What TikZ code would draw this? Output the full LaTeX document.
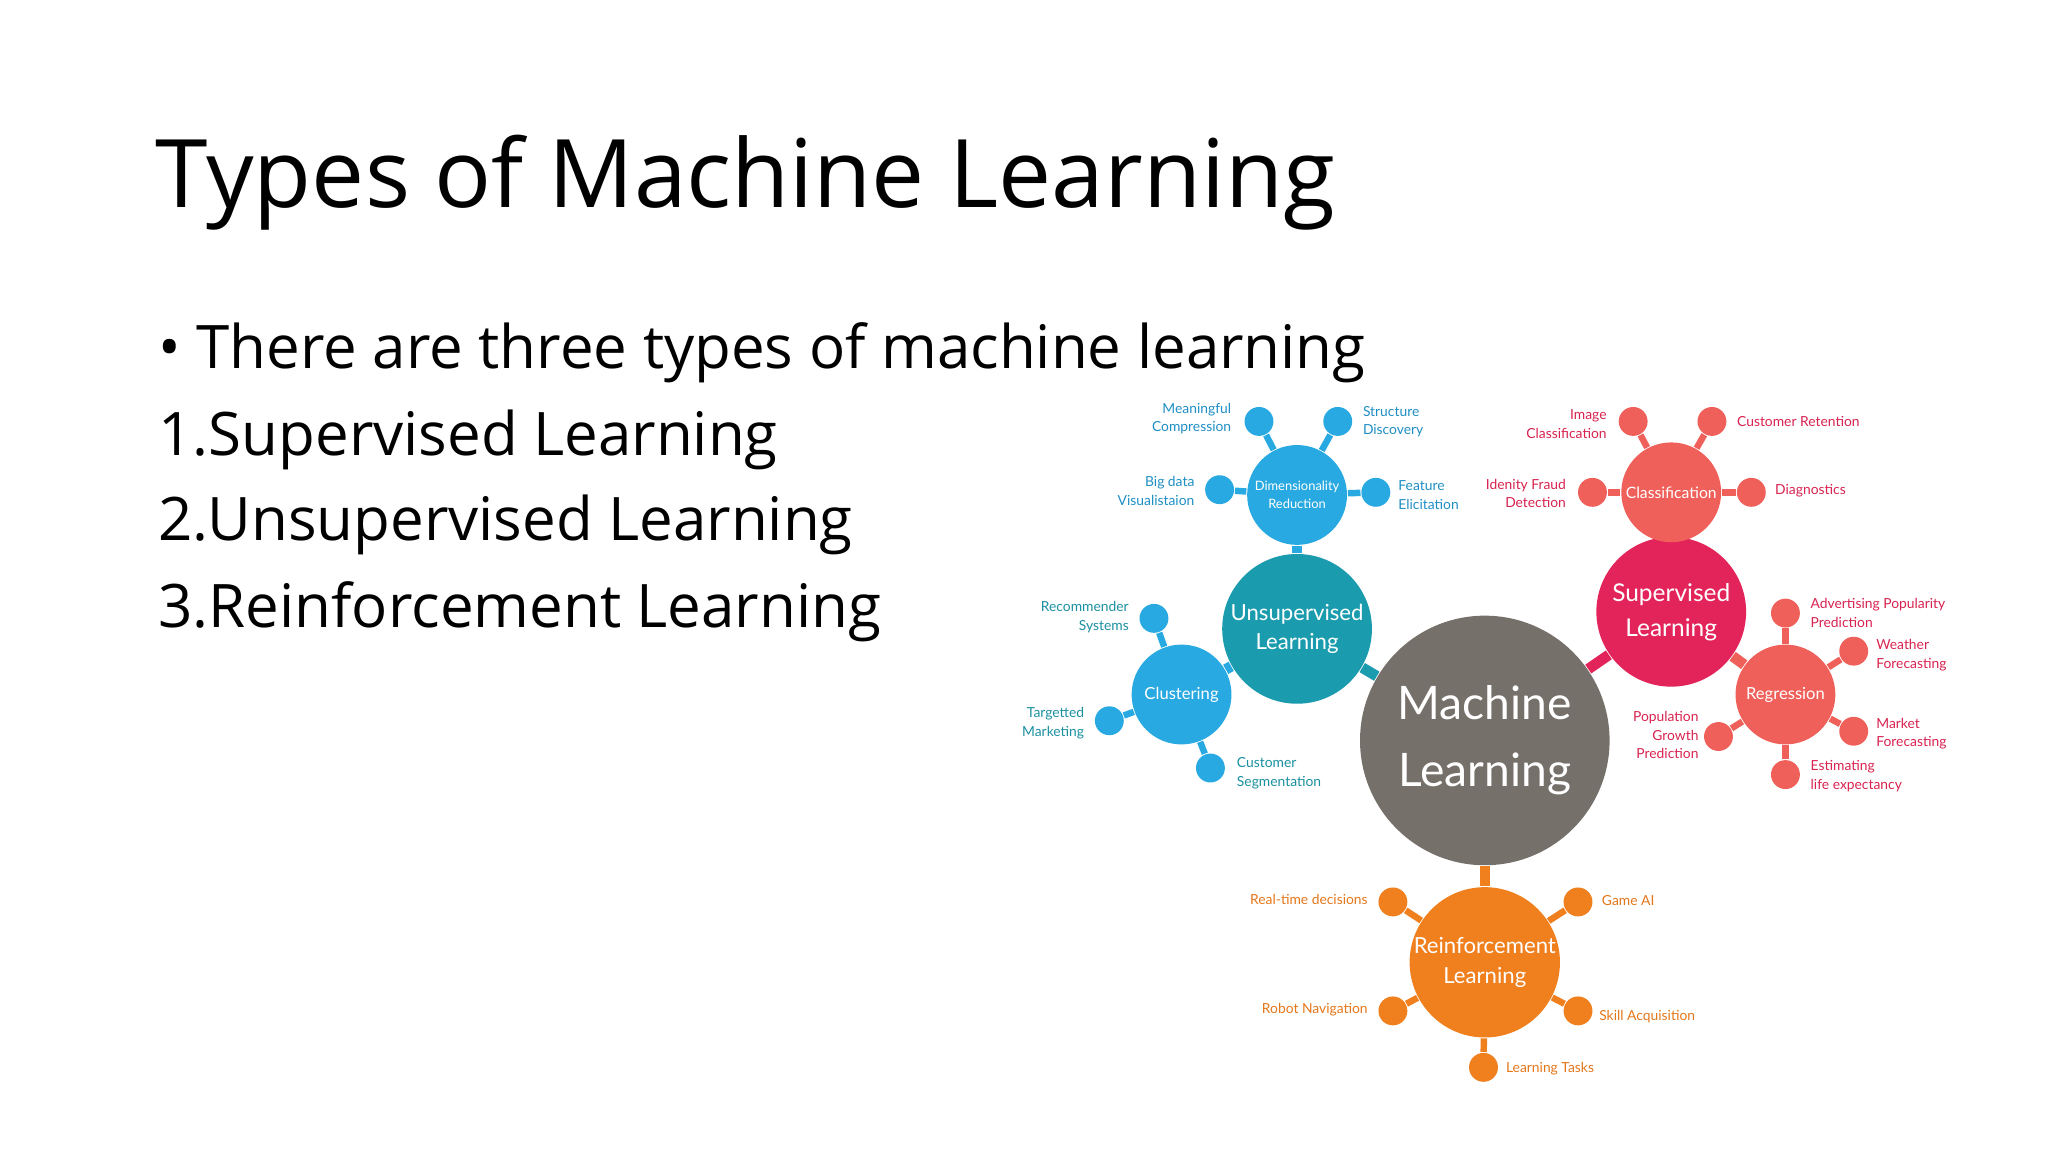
\documentclass[tikz,border=0pt]{standalone}
\usepackage{fontspec}
\setmainfont{Open Sans}
\newfontfamily\lab{Lato}
\usetikzlibrary{backgrounds}
\definecolor{mlgrey}{HTML}{76706A}
\definecolor{unsup}{HTML}{1A9BAE}
\definecolor{sup}{HTML}{E3245A}
\definecolor{reinf}{HTML}{F07F1E}
\definecolor{blu}{HTML}{29A9E1}
\definecolor{red2}{HTML}{F0605A}
\definecolor{blutxt}{HTML}{1E8EC4}
\definecolor{teatxt}{HTML}{1A8FA0}
\definecolor{redtxt}{HTML}{D8224F}
\definecolor{ortxt}{HTML}{E4761A}
\tikzset{
 big/.style={circle,fill=mlgrey,minimum size=1.9cm,inner sep=0pt,text=white,align=center,font=\lab\fontsize{10}{14.5}\selectfont},
 mid/.style={circle,fill=#1,minimum size=1.14cm,inner sep=0pt,text=white,align=center,font=\lab\fontsize{4.8}{6.4}\selectfont},
 sm/.style={circle,fill=#1,minimum size=0.76cm,inner sep=0pt,text=white,align=center},
 dot/.style={circle,fill=#1,minimum size=0.22cm,inner sep=0pt},
 lbl/.style={text=#1,align=center,font=\lab\fontsize{3}{4}\selectfont,inner sep=1pt},
 thick1/.style={line width=2.3pt,draw=#1},
 thin1/.style={line width=1.4pt,draw=#1},
}
\begin{document}
\begin{tikzpicture}[x=0.01cm,y=-0.01cm]
\useasboundingbox (0,0) rectangle (1560,877.5);
\node[anchor=base west,inner sep=0pt,font=\fontsize{20.5}{23}\selectfont] (title) at (118,158) {Types of Machine Learning};
\node[anchor=base west,inner sep=0pt,font=\fontsize{13}{15}\selectfont] (b0) at (120,281) {\textbullet{} There are three types of machine learning};
\node[anchor=base west,inner sep=0pt,font=\fontsize{13}{15}\selectfont] (b1) at (120,347) {1.Supervised Learning};
\node[anchor=base west,inner sep=0pt,font=\fontsize{13}{15}\selectfont] (b2) at (120,412) {2.Unsupervised Learning};
\node[anchor=base west,inner sep=0pt,font=\fontsize{13}{15}\selectfont] (b3) at (120,478) {3.Reinforcement Learning};

\node[big] (ml) at (1131,564) {Machine\\Learning};
\node[mid=unsup] (un) at (988,479) {Unsupervised\\Learning};
\node[mid=sup,font=\lab\fontsize{5.3}{7.6}\selectfont] (su) at (1273,466) {Supervised\\Learning};
\node[mid=reinf] (re) at (1131,733) {Reinforcement\\Learning};
\node[sm=blu,font=\lab\fontsize{2.8}{3.8}\selectfont] (dr) at (988,377) {Dimensionality\\Reduction};
\node[sm=blu,font=\lab\fontsize{3.6}{4.5}\selectfont] (cl) at (900,529) {Clustering};
\node[sm=red2,font=\lab\fontsize{3.4}{4.5}\selectfont] (ca) at (1273,375) {Classification};
\node[sm=red2,font=\lab\fontsize{3.6}{4.5}\selectfont] (rg) at (1360,529) {Regression};

\foreach \n/\x/\y/\c in {d1/959/321/blu,d2/1019/321/blu,d3/929/373/blu,d4/1048/375/blu,
  c1/879/471/blu,c2/845/549/blu,c3/922/585/blu,
  a1/1244/321/red2,a2/1304/321/red2,a3/1213/375/red2,a4/1334/375/red2,
  r1/1360/467/red2,r2/1412/496/red2,r3/1412/557/red2,r4/1360/590/red2,r5/1309/561/red2,
  e1/1061/687/reinf,e2/1202/687/reinf,e3/1061/770/reinf,e4/1202/770/reinf,e5/1130/813/reinf}
  \node[dot=\c] (\n) at (\x,\y) {};

\begin{scope}[on background layer]
\draw[thick1=unsup] (ml) -- (un);
\draw[thick1=sup] (ml) -- (su);
\draw[thick1=reinf] (ml) -- (re);
\draw[thick1=blu] (un) -- (dr);
\draw[thick1=blu] (un) -- (cl);
\draw[thick1=red2] (su) -- (ca);
\draw[thick1=red2] (su) -- (rg);
\foreach \n in {d1,d2,d3,d4} \draw[thin1=blu] (dr) -- (\n);
\foreach \n in {c1,c2,c3} \draw[thin1=blu] (cl) -- (\n);
\foreach \n in {a1,a2,a3,a4} \draw[thin1=red2] (ca) -- (\n);
\foreach \n in {r1,r2,r3,r4,r5} \draw[thin1=red2] (rg) -- (\n);
\foreach \n in {e1,e2,e3,e4,e5} \draw[thin1=reinf] (re) -- (\n);
\end{scope}

\node[lbl=blutxt,anchor=east,align=right] (ld1) at (942,319) {Meaningful\\Compression};
\node[lbl=blutxt,anchor=west,align=left] (ld2) at (1034,321) {Structure\\Discovery};
\node[lbl=blutxt,anchor=east,align=right] (ld3) at (914,374) {Big data\\Visualistaion};
\node[lbl=blutxt,anchor=west,align=left] (ld4) at (1061,377) {Feature\\Elicitation};
\node[lbl=teatxt,anchor=east,align=right] (lc1) at (864,470) {Recommender\\Systems};
\node[lbl=teatxt,anchor=east,align=right] (lc2) at (830,551) {Targetted\\Marketing};
\node[lbl=teatxt,anchor=west,align=left] (lc3) at (938,589) {Customer\\Segmentation};
\node[lbl=redtxt,anchor=east,align=right] (la1) at (1228,323) {Image\\Classification};
\node[lbl=redtxt,anchor=west] (la2) at (1319,321) {Customer Retention};
\node[lbl=redtxt,anchor=east,align=right] (la3) at (1197,376) {Idenity Fraud\\Detection};
\node[lbl=redtxt,anchor=west] (la4) at (1348,374) {Diagnostics};
\node[lbl=redtxt,anchor=west,align=left] (lr1) at (1375,467) {Advertising Popularity\\Prediction};
\node[lbl=redtxt,anchor=west,align=left] (lr2) at (1425,499) {Weather\\Forecasting};
\node[lbl=redtxt,anchor=west,align=left] (lr3) at (1425,559) {Market\\Forecasting};
\node[lbl=redtxt,anchor=west,align=left] (lr4) at (1375,591) {Estimating\\life expectancy};
\node[lbl=redtxt,anchor=east,align=right] (lr5) at (1298,560) {Population\\Growth\\Prediction};
\node[lbl=ortxt,anchor=east] (le1) at (1046,685) {Real-time decisions};
\node[lbl=ortxt,anchor=west] (le2) at (1216,686) {Game AI};
\node[lbl=ortxt,anchor=east] (le3) at (1046,769) {Robot Navigation};
\node[lbl=ortxt,anchor=west] (le4) at (1214,774) {Skill Acquisition};
\node[lbl=ortxt,anchor=west] (le5) at (1143,814) {Learning Tasks};
\end{tikzpicture}
\end{document}
